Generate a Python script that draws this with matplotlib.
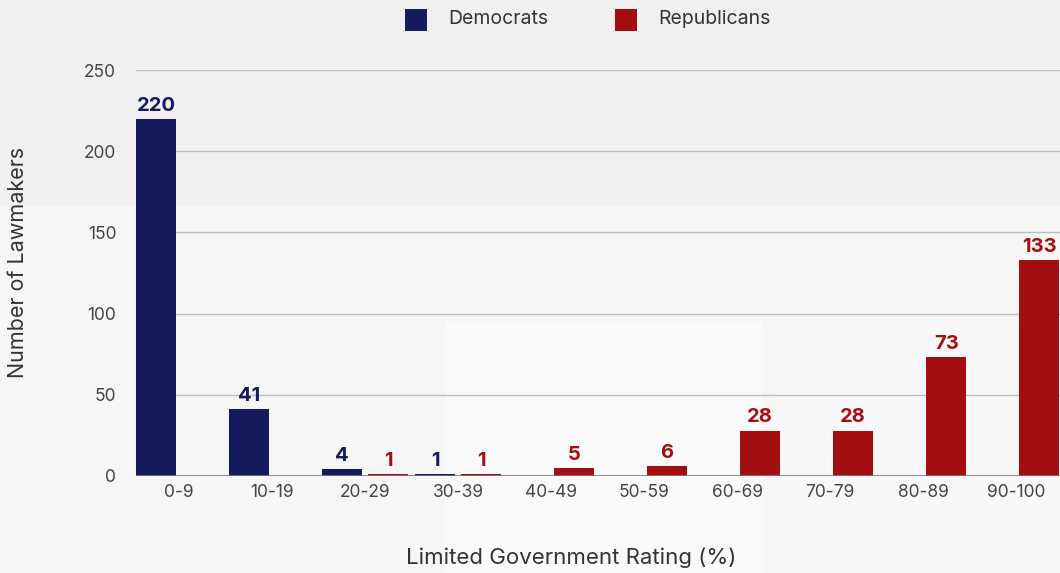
"""
Lawmakers by Limited Government Rating, Democrats vs Republicans.
"""
import numpy as np
import matplotlib
matplotlib.use("Agg")
import matplotlib.pyplot as plt
from matplotlib.patches import Rectangle

plt.rcParams["font.family"] = ["Inter", "DejaVu Sans"]

CATEGORIES = ["0-9", "10-19", "20-29", "30-39", "40-49",
              "50-59", "60-69", "70-79", "80-89", "90-100"]
DEMOCRATS = [220, 41, 4, 1, 0, 0, 0, 0, 0, 0]
REPUBLICANS = [0, 0, 1, 1, 5, 6, 28, 28, 73, 133]

DEM_COLOR = "#141a5c"
REP_COLOR = "#a30e12"
BG = "#f0f0f0"


def main() -> None:
    fig = plt.figure(figsize=(10.6, 5.73), dpi=100, facecolor=BG)
    # faint lighter panels in the background
    for (x0, y0, w, h, c) in [(0.0, 0.0, 1.0, 0.64, "#f6f6f6"),
                              (0.42, 0.0, 0.3, 0.44, "#fafafa"),
                              (0.73, 0.0, 0.27, 0.44, "#f8f8f8")]:
        fig.patches.append(Rectangle((x0, y0), w, h, transform=fig.transFigure,
                                     facecolor=c, edgecolor="none", zorder=-10))

    ax = fig.add_axes([0.128, 0.1693, 0.872, 0.7085])
    ax.set_facecolor("none")

    x = np.arange(len(CATEGORIES))
    width = 0.43
    off = 0.247
    ax.bar(x - off, DEMOCRATS, width, color=DEM_COLOR, zorder=3)
    ax.bar(x + off, REPUBLICANS, width, color=REP_COLOR, zorder=3)

    for xi, v in zip(x, DEMOCRATS):
        if v:
            ax.text(xi - off, v + 2.5, str(v), ha="center", va="bottom",
                    color=DEM_COLOR, fontsize=14.5, fontweight="bold")
    for xi, v in zip(x, REPUBLICANS):
        if v:
            ax.text(xi + off, v + 2.5, str(v), ha="center", va="bottom",
                    color=REP_COLOR, fontsize=14.5, fontweight="bold")

    ax.set_xlim(-0.465, 9.47)
    ax.set_ylim(0, 250)
    ax.set_yticks([0, 50, 100, 150, 200, 250])
    ax.set_xticks(x)
    ax.set_xticklabels(CATEGORIES)
    ax.tick_params(axis="both", length=0, labelsize=12.5, colors="#444444")
    ax.tick_params(axis="y", pad=14)
    ax.tick_params(axis="x", pad=6)
    ax.yaxis.grid(True, color="#bdbdbd", linewidth=1.0, zorder=0)
    ax.set_axisbelow(True)
    for s in ax.spines.values():
        s.set_visible(False)
    ax.axhline(0, color="#7a7a7a", linewidth=1.2, zorder=4)

    fig.text(0.017, 1 - 262 / 573, "Number of Lawmakers", rotation=90, ha="center",
             va="center", fontsize=15.5, color="#333333")
    fig.text(571 / 1060, 1 - 558 / 573, "Limited Government Rating (%)",
             ha="center", va="center", fontsize=16, color="#333333")

    # legend
    for (sx, label, col) in [(405, "Democrats", DEM_COLOR), (615, "Republicans", REP_COLOR)]:
        fig.patches.append(Rectangle((sx / 1060, 1 - 31 / 573), 22 / 1060, 22 / 573,
                                     transform=fig.transFigure, facecolor=col,
                                     edgecolor="none"))
        fig.text((sx + 43) / 1060, 1 - 19 / 573, label, ha="left", va="center",
                 fontsize=14, color="#333333")

    fig.savefig("out.png", dpi=100, facecolor=BG)
    plt.close(fig)


if __name__ == "__main__":
    main()
